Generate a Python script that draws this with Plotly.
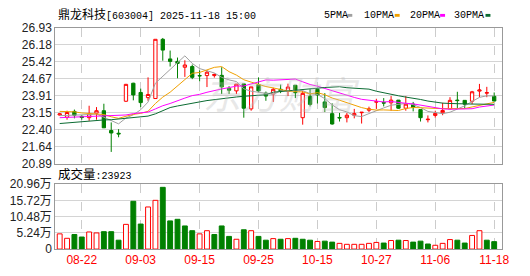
import plotly.graph_objects as go

# ---------------- data ----------------
dates = ["08-19", "08-20", "08-21", "08-22", "08-25", "08-26", "08-27", "08-28", "08-29",
         "09-01", "09-02", "09-03", "09-04", "09-05", "09-08", "09-09", "09-10", "09-11", "09-12",
         "09-15", "09-16", "09-17", "09-18", "09-19", "09-22", "09-23", "09-24", "09-25", "09-26",
         "09-29", "09-30", "10-09", "10-10", "10-13", "10-14", "10-15", "10-16", "10-17",
         "10-20", "10-21", "10-22", "10-23", "10-24", "10-27", "10-28", "10-29", "10-30", "10-31",
         "11-03", "11-04", "11-05", "11-06", "11-07", "11-10", "11-11", "11-12", "11-13", "11-14",
         "11-17", "11-18"]

opens = [23.05, 22.95, 23.21, 22.99, 22.93, 23.13, 23.24, 22.36, 22.24, 23.66,
         24.46, 24.05, 23.82, 23.78, 26.41, 25.54, 25.43, 25.17, 25.20, 24.80,
         24.80, 24.80, 24.81, 24.23, 24.12, 24.43, 23.32, 24.40, 24.02, 23.98,
         24.19, 24.11, 24.37, 22.93, 23.88, 24.19, 23.63, 23.11, 22.94, 22.93,
         23.04, 23.15, 23.26, 23.62, 23.60, 23.59, 23.71, 23.35, 23.53, 23.29,
         22.84, 23.03, 23.15, 23.32, 23.71, 23.70, 23.66, 24.11, 24.02, 23.88]
highs = [23.14, 23.24, 23.29, 23.04, 23.46, 23.40, 23.55, 22.72, 22.42, 24.43,
         24.48, 24.22, 24.72, 26.41, 26.47, 25.91, 25.60, 25.48, 25.29, 25.03,
         25.03, 24.89, 25.17, 24.33, 24.42, 24.43, 24.30, 24.72, 24.09, 24.26,
         24.40, 24.44, 24.37, 24.12, 24.19, 24.19, 24.02, 23.57, 23.14, 23.14,
         23.32, 23.18, 23.42, 23.77, 23.80, 23.89, 23.71, 23.89, 23.63, 23.29,
         23.03, 23.24, 23.59, 23.84, 24.08, 23.70, 24.12, 24.43, 24.30, 24.05]
lows = [23.02, 22.84, 22.90, 22.84, 22.79, 22.84, 22.48, 21.41, 22.06, 23.63,
        23.70, 23.40, 23.68, 23.78, 25.46, 25.20, 24.68, 24.74, 24.64, 24.54,
        24.29, 24.71, 23.98, 23.98, 23.98, 22.93, 23.24, 24.05, 23.68, 23.63,
        24.02, 23.89, 23.80, 22.62, 23.43, 23.56, 23.18, 22.62, 22.76, 22.72,
        22.90, 22.67, 23.18, 23.32, 23.43, 23.24, 23.32, 23.24, 23.21, 22.76,
        22.72, 22.93, 23.04, 23.32, 23.32, 23.35, 23.53, 23.84, 23.84, 23.67]
closes = [23.10, 23.16, 23.04, 22.94, 23.10, 23.24, 22.48, 22.25, 22.21, 24.41,
          23.94, 23.60, 23.96, 26.41, 25.93, 25.43, 25.34, 25.27, 24.72, 24.79,
          24.95, 24.85, 24.30, 24.15, 24.42, 23.35, 24.30, 24.12, 23.89, 24.19,
          24.12, 24.29, 24.04, 24.01, 23.52, 23.94, 23.38, 22.65, 22.92, 23.04,
          23.11, 23.17, 23.32, 23.64, 23.58, 23.71, 23.35, 23.53, 23.38, 22.93,
          22.86, 23.12, 23.25, 23.70, 23.69, 23.53, 24.08, 24.16, 24.04, 23.67]

# volume in 万 (10k shares/hands)
volume_wan = [4.90, 3.47, 4.69, 3.88, 5.51, 5.20, 5.61, 5.61, 2.86, 7.96,
              15.40, 8.06, 13.57, 15.71, 19.90, 9.08, 9.59, 7.45, 5.92, 4.90,
              5.92, 4.69, 7.45, 4.08, 3.16, 6.22, 5.92, 4.08, 2.86, 3.37,
              3.16, 3.37, 3.47, 3.16, 2.86, 2.45, 2.55, 2.24, 1.84, 1.53,
              1.53, 1.53, 1.84, 2.14, 1.94, 2.75, 2.86, 2.75, 2.24, 2.55,
              1.63, 1.22, 1.84, 3.06, 2.86, 1.94, 4.39, 5.92, 2.86, 2.3923]

ma5_start = [23.02, 23.03, 23.04, 23.04]
ma10_start = [23.21, 23.21, 23.19, 23.14, 23.12, 23.11, 23.07, 22.97, 22.90]
ma20_start = [22.93, 22.94, 22.95, 22.97, 22.98, 23.00, 23.01, 23.02, 23.02, 23.05,
              23.11, 23.15, 23.18, 23.32, 23.46, 23.56, 23.69, 23.80, 23.91]
ma30_start = [22.67, 22.70, 22.73, 22.74, 22.77, 22.80, 22.83, 22.84, 22.87, 22.90,
              22.93, 22.96, 23.00, 23.10, 23.24, 23.38, 23.45, 23.52, 23.59, 23.63,
              23.69, 23.73, 23.80, 23.83, 23.85, 23.88, 23.90, 23.92, 23.95]

price_ticks = [20.89, 21.64, 22.40, 23.15, 23.91, 24.67, 25.42, 26.18, 26.93]
vol_ticks = [0, 5.24, 10.48, 15.72, 20.96]
date_ticks = ["08-22", "09-03", "09-15", "09-25", "10-15", "10-27", "11-06", "11-18"]

stock_title = "鼎龙科技"
stock_code = "[603004] 2025-11-18 15:00"


def moving_average(vals, n, start):
    out = list(start)
    for i in range(len(start), len(vals)):
        out.append(sum(vals[i - n + 1:i + 1]) / n)
    return out


ma5 = moving_average(closes, 5, ma5_start)
ma10 = moving_average(closes, 10, ma10_start)
ma20 = moving_average(closes, 20, ma20_start)
ma30 = moving_average(closes, 30, ma30_start)

RED = "#ff0000"
GREEN = "#008000"
MA_COLORS = {"5PMA": "#a0a0a0", "10PMA": "#f0a000", "20PMA": "#ff00ff", "30PMA": "#0b6b32"}

W, H = 530, 276


def fx(p):
    return p / W


def fy(p):
    return 1 - p / H


fig = go.Figure()

fig.add_trace(go.Candlestick(
    x=dates, open=opens, high=highs, low=lows, close=closes,
    increasing=dict(line=dict(color=RED, width=1), fillcolor="#ffffff"),
    decreasing=dict(line=dict(color=GREEN, width=1), fillcolor=GREEN),
    whiskerwidth=0, hoverinfo="skip", xaxis="x", yaxis="y"))

for name, vals in [("5PMA", ma5), ("10PMA", ma10), ("20PMA", ma20), ("30PMA", ma30)]:
    fig.add_trace(go.Scatter(x=dates, y=vals, mode="lines",
                             line=dict(color=MA_COLORS[name], width=1),
                             hoverinfo="skip", xaxis="x", yaxis="y"))

vol_up = [True] + [closes[i] >= closes[i - 1] for i in range(1, len(closes))]
fig.add_trace(go.Bar(
    x=dates, y=volume_wan, width=0.66,
    marker=dict(color=["#ffffff" if u else GREEN for u in vol_up],
                line=dict(color=[RED if u else GREEN for u in vol_up], width=1)),
    hoverinfo="skip", xaxis="x2", yaxis="y2"))

xr = [-0.6, 60.1]
xdom = [fx(56), fx(509)]
common_x = dict(type="category", range=xr, domain=xdom, showline=True, mirror=True,
                linecolor="#999999", linewidth=1, showgrid=True, gridcolor="#cccccc",
                griddash="dash", gridwidth=1, tickmode="array", tickvals=date_ticks,
                ticks="", zeroline=False, fixedrange=True)

fig.update_layout(
    width=W, height=H, margin=dict(l=0, r=0, t=0, b=0),
    paper_bgcolor="#ffffff", plot_bgcolor="#ffffff", showlegend=False,
    boxgap=0.36,
    xaxis=dict(**common_x, showticklabels=False, anchor="y",
               rangeslider=dict(visible=False)),
    xaxis2=dict(**common_x, showticklabels=True, anchor="y2", ticktext=date_ticks,
                tickfont=dict(family="Liberation Sans, Arial", size=12, color=RED)),
    yaxis=dict(domain=[fy(165), fy(21.7)], range=[price_ticks[0], price_ticks[-1]],
               tickmode="array", tickvals=price_ticks,
               ticktext=[f"{v:.2f}" for v in price_ticks],
               tickfont=dict(family="Liberation Sans, Arial", size=12, color="#222222"),
               showline=True, mirror=True, linecolor="#999999", linewidth=1,
               showgrid=True, gridcolor="#d4d4d4", gridwidth=1, ticks="",
               zeroline=False, anchor="x", fixedrange=True),
    yaxis2=dict(domain=[fy(255), fy(186.5)], range=[vol_ticks[0], vol_ticks[-1]],
                tickmode="array", tickvals=vol_ticks,
                ticktext=["0"] + [f"{v:.2f}万" for v in vol_ticks[1:]],
                tickfont=dict(family="Liberation Sans, Noto Sans CJK SC", size=12, color="#222222"),
                showline=True, mirror=True, linecolor="#999999", linewidth=1,
                showgrid=True, gridcolor="#d4d4d4", gridwidth=1, ticks="",
                zeroline=False, anchor="x2", fixedrange=True),
)

mono = "Liberation Mono, Noto Sans CJK SC"
annotations = [
    dict(x=fx(57), y=fy(9), xref="paper", yref="paper", xanchor="left", yanchor="middle",
         showarrow=False, font=dict(family=mono, size=10, color="#000000"),
         text=f'<span style="font-size:12px">{stock_title}</span>{stock_code}'),
    dict(x=fx(57), y=fy(177), xref="paper", yref="paper", xanchor="left", yanchor="middle",
         showarrow=False, font=dict(family=mono, size=10, color="#000000"),
         text=f'<span style="font-size:12.5px">成交量</span>:{int(round(volume_wan[-1] * 10000))}'),
    dict(x=fx(285), y=fy(90), xref="paper", yref="paper", xanchor="center", yanchor="middle",
         showarrow=False, font=dict(family="Noto Sans CJK SC", size=38, color="rgba(190,190,190,0.35)"),
         text="<i>东方财富</i>"),
]
shapes = []
legend_pos = [("5PMA", 326, 352), ("10PMA", 367, 400), ("20PMA", 413, 446), ("30PMA", 458, 492)]
for name, tx, sx in legend_pos:
    annotations.append(dict(x=fx(tx), y=fy(9), xref="paper", yref="paper", xanchor="left",
                            yanchor="middle", showarrow=False,
                            font=dict(family=mono, size=10, color="#000000"), text=name))
    shapes.append(dict(type="rect", xref="paper", yref="paper", x0=fx(sx), x1=fx(sx + 5),
                       y0=fy(10.3), y1=fy(7.3), fillcolor=MA_COLORS[name], line=dict(width=0)))

fig.update_layout(annotations=annotations, shapes=shapes)

fig.write_html("out.html")
